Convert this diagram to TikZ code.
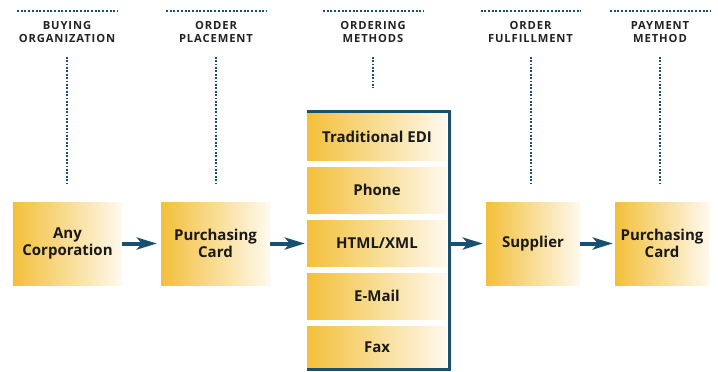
\documentclass[tikz,border=0pt]{standalone}
\usepackage{fontspec}
\setmainfont{Open Sans}
\newfontfamily\hdrfont[LetterSpace=8]{Open Sans}
\usetikzlibrary{arrows.meta}
\definecolor{navy}{RGB}{24,80,114}
\definecolor{gold}{RGB}{243,192,58}
\definecolor{cream}{RGB}{255,249,238}
\definecolor{ink}{RGB}{25,25,25}
\definecolor{hdrink}{RGB}{35,35,35}
\begin{document}
\begin{tikzpicture}[x=1bp,y=-1bp,
  box/.style={inner sep=0pt, left color=gold, right color=cream, align=center,
    font=\fontsize{15bp}{16.5bp}\selectfont\bfseries, text=ink, minimum height=83bp},
  mbox/.style={box, minimum width=140bp},
  hdr/.style={inner sep=0pt, align=center, text=hdrink,
    font=\hdrfont\bfseries\fontsize{11.2bp}{12.9bp}\selectfont},
  hdots/.style={draw=navy, line width=2bp, dash pattern=on 2bp off 1.7bp},
  vdots/.style={draw=navy, line width=2bp, dash pattern=on 1.7bp off 1.7bp},
  arr/.style={draw=navy, line width=4bp, -{Stealth[length=20bp,width=12bp,inset=5bp]}},
  frame/.style={draw=navy, line width=3.2bp, line join=miter}
]
\useasboundingbox (0,0) rectangle (718,371);

% headers
\node[hdr] (h1) at (67,31.6) {BUYING\\ORGANIZATION};
\node[hdr] (h2) at (216,31.6) {ORDER\\PLACEMENT};
\node[hdr] (h3) at (373,31.6) {ORDERING\\METHODS};
\node[hdr] (h4) at (530.5,31.6) {ORDER\\FULFILLMENT};
\node[hdr] (h5) at (660,31.6) {PAYMENT\\METHOD};

% boxes
\node[box, minimum width=109bp] (corp) at (67.5,243.5) {Any\\Corporation};
\node[box, minimum width=109bp] (pc1) at (215.5,243.5) {Purchasing\\Card};
\node[box, minimum width=94bp] (sup) at (533,243.5) {Supplier};
\node[box, minimum width=94bp] (pc2) at (662,243.5) {Purchasing\\Card};

% ordering methods container
\node[inner sep=0pt, minimum width=144bp, minimum height=261bp] (cont) at (379,240.5) {};
\node[mbox, minimum height=47bp] (edi) at (377,136.5) {Traditional EDI};
\node[mbox, minimum height=46bp] (phone) at (377,190) {Phone};
\node[mbox, minimum height=46bp] (html) at (377,243) {HTML/XML};
\node[mbox, minimum height=46bp] (mail) at (377,296) {E-Mail};
\node[mbox, minimum height=42bp] (fax) at (377,347) {Fax};
\draw[frame] ([yshift=-1.6bp]cont.north west) -| ([shift={(-1.6bp,1.6bp)}]cont.south east) -- ([yshift=1.6bp]cont.south west);

% top dotted rules
\foreach \h in {h1,h2,h3,h4,h5}{
  \draw[hdots] ([shift={(-50bp,10.3bp)}]\h.north) -- ([shift={(50bp,10.3bp)}]\h.north);
}
% vertical dotted lines
\draw[vdots] ([yshift=-14.5bp]h1.south) -- ([yshift=16bp]h1.south |- corp.north);
\draw[vdots] ([yshift=-14.5bp]h2.south) -- ([yshift=16bp]h2.south |- pc1.north);
\draw[vdots] ([yshift=-14.5bp]h3.south) -- ([yshift=22bp]h3.south |- cont.north);
\draw[vdots] ([yshift=-14.5bp]h4.south) -- ([yshift=16bp]h4.south |- sup.north);
\draw[vdots] ([yshift=-14.5bp]h5.south) -- ([yshift=16bp]h5.south |- pc2.north);

% arrows
\draw[arr, shorten >=4bp] (corp.east) -- (pc1.west);
\draw[arr, shorten >=2bp] (pc1.east) -- (pc1.east -| cont.west);
\draw[arr, shorten >=3bp] (sup.west -| cont.east) -- (sup.west);
\draw[arr, shorten >=2bp] (sup.east) -- (pc2.west);
\end{tikzpicture}
\end{document}
